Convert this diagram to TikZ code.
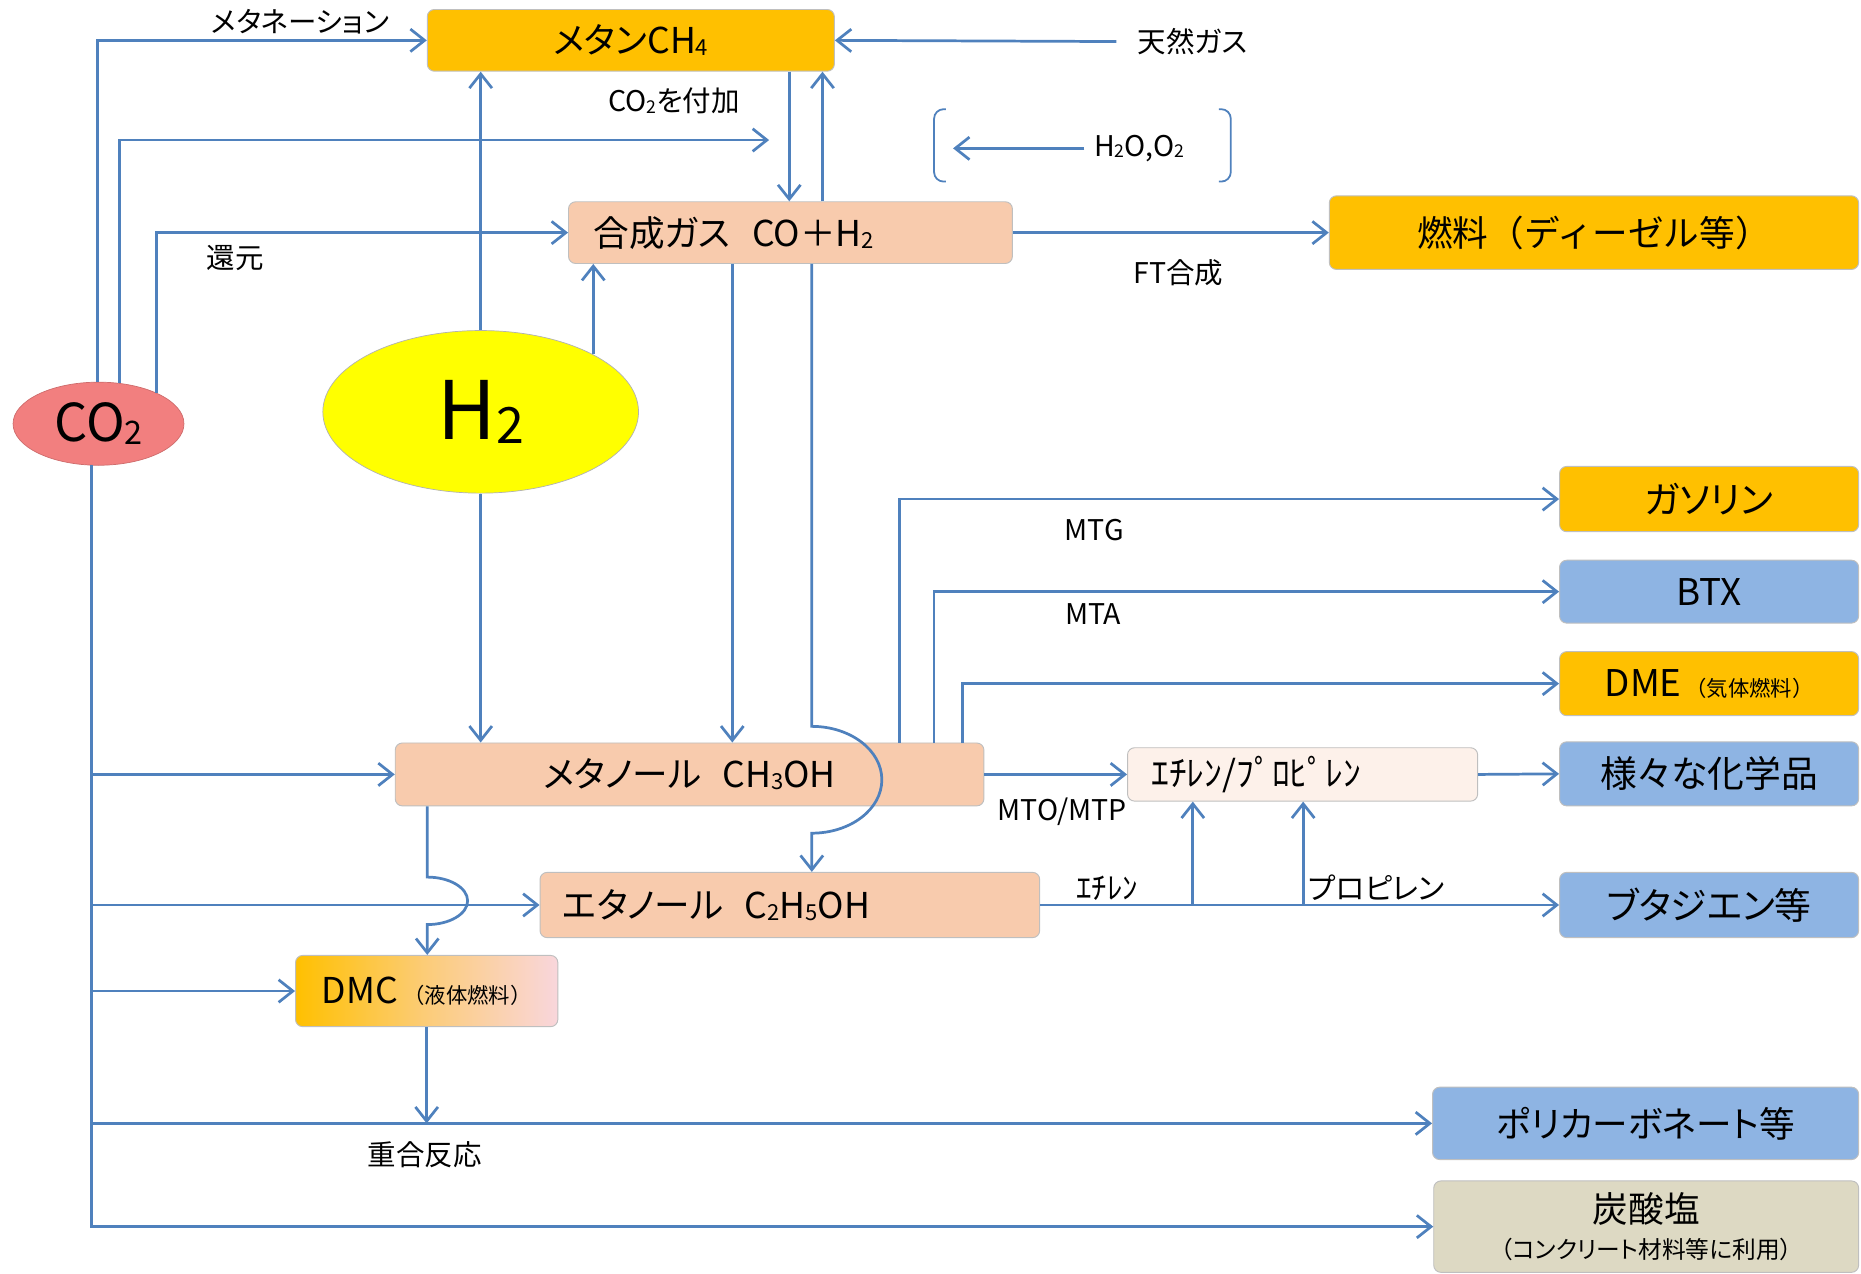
\documentclass[tikz,border=0pt]{standalone}
\usepackage{fontspec}
\setmainfont{Noto Sans CJK JP}[RawFeature=+palt]
\newfontfamily\jpfull{Noto Sans CJK JP}
\usetikzlibrary{arrows.meta,calc,shapes.geometric}
\definecolor{gold}{HTML}{FFC000}
\definecolor{peach}{HTML}{F8CBAD}
\definecolor{skyb}{HTML}{8EB4E3}
\definecolor{beige}{HTML}{DDD9C3}
\definecolor{pale}{HTML}{FDF1EA}
\definecolor{salmon}{HTML}{F27F7F}
\definecolor{lineblue}{HTML}{4F81BD}
\definecolor{dmcpink}{HTML}{F9D6DC}
\definecolor{hyellow}{HTML}{FFFF00}
\newcommand{\bigf}{\fontsize{30}{36}\selectfont}
\newcommand{\rcf}{\fontsize{31}{37}\selectfont}
\newcommand{\lblf}{\fontsize{24}{28}\selectfont}
\newcommand{\tinyf}{\fontsize{18}{21}\selectfont}
\newcommand{\sbs}[1]{\raisebox{-0.06em}{\scalebox{0.62}{#1}}}
\tikzset{
  box/.style={rounded corners=6pt, draw=black!25, line width=0.8pt, inner sep=0pt},
  conn/.style={draw=lineblue, line width=2.3pt},
  arr/.style={conn, -{Straight Barb[length=12pt,width=19pt]}},
  lbl/.style={font=\lblf, inner sep=0pt},
  rcol/.style={box, minimum width=252pt, font=\rcf},
}
\begin{document}
\begin{tikzpicture}[x=1pt,y=-1pt]
\useasboundingbox (0,0) rectangle (1568,1073);
% ---- nodes ----
\node[box, fill=gold, minimum width=343pt, minimum height=52pt, font=\bigf] (methane) at (531.5,34) {メタンCH\sbs{4}};
\node[box, fill=peach, minimum width=374pt, minimum height=52pt, text width=332pt, align=left, inner xsep=21pt, font=\bigf] (syngas) at (666,196) {合成ガス\hspace{0.6em}CO＋H\sbs{2}};
\node[box, fill=gold, minimum width=446pt, minimum height=62pt, font=\bigf\jpfull] (fuel) at (1343,196) {燃料（ディーゼル等）};
\node[ellipse, fill=salmon, draw=salmon!85!black, line width=0.6pt, minimum width=144pt, minimum height=70pt, inner sep=0pt, font=\fontsize{44}{48}\selectfont] (co2) at (83,357) {CO\sbs{2}};
\node[ellipse, fill=hyellow, draw=black!30, line width=0.6pt, minimum width=266pt, minimum height=137pt, inner sep=0pt, font=\fontsize{68}{72}\selectfont] (h2) at (405,347) {H\sbs{2}};
\node[box, fill=peach, minimum width=496pt, minimum height=53pt, font=\bigf] (methanol) at (581,652.5) {メタノール\hspace{0.6em}CH\sbs{3}OH};
\node[box, fill=peach, minimum width=421pt, minimum height=55pt, text width=383pt, align=left, inner xsep=19pt, font=\bigf] (ethanol) at (665.5,762.5) {エタノール\hspace{0.6em}C\sbs{2}H\sbs{5}OH};
\node[box, fill=pale, minimum width=295pt, minimum height=45pt, text width=255pt, align=left, inner xsep=20pt, font=\bigf] (olefin) at (1097.5,652.5) {ｴﾁﾚﾝ/ﾌﾟﾛﾋﾟﾚﾝ};
\node[box, left color=gold, right color=dmcpink, middle color=gold!45!dmcpink, minimum width=221pt, minimum height=60pt, font=\bigf] (dmc) at (359.5,835) {DMC\hspace{0.15em}{\tinyf\jpfull （液体燃料）}};
\node[rcol, fill=gold, minimum height=55pt] (gasoline) at (1440,420.5) {ガソリン};
\node[rcol, fill=skyb, minimum height=53pt] (btx) at (1440,498.5) {BTX};
\node[rcol, fill=gold, minimum height=54pt] (dme) at (1440,576) {DME\hspace{0.1em}{\tinyf\jpfull （気体燃料）}};
\node[rcol, fill=skyb, minimum height=54pt] (chem) at (1440,652) {様々な化学品};
\node[rcol, fill=skyb, minimum height=55pt] (butadiene) at (1440,762.5) {ブタジエン等};
\node[box, fill=skyb, minimum width=359pt, minimum height=61pt, font=\bigf] (poly) at (1386.5,946.5) {ポリカーボネート等};
\node[box, fill=beige, minimum width=358pt, minimum height=77pt, align=center, font=\bigf] (carbonate) at (1387,1033.5) {炭酸塩\\[-6pt]{\fontsize{20}{24}\selectfont （コンクリート材料等に利用）}};
% ---- labels ----
\node[lbl] (lmeth) at (253,18) {メタネーション};
\node[lbl] (laddco2) at (568,85) {CO\sbs{2}を付加};
\node[lbl] (ng) at (1005,35) {天然ガス};
\node[lbl] (h2o) at (960,125) {H\sbs{2}O,O\sbs{2}};
\node[lbl] (lred) at (198,217) {還元};
\node[lbl] (lft) at (993,230) {FT合成};
\node[lbl] (lmtg) at (922,447) {MTG};
\node[lbl] (lmta) at (921,517) {MTA};
\node[lbl] (lmto) at (895,684) {MTO/MTP};
\node[lbl, font=\fontsize{26}{30}\selectfont] (leth) at (933,748) {ｴﾁﾚﾝ};
\node[lbl, font=\fontsize{25}{30}\selectfont] (lprop) at (1160,748) {プロピレン};
\node[lbl] (lpoly) at (358,973) {重合反応};
% ---- helper coordinates ----
\coordinate (addco2) at (648,118);
\coordinate (h2oend) at (803,125);
\coordinate (xa) at (665,0);
\coordinate (xb) at (693,0);
\coordinate (xc) at (617,0);
\coordinate (xh) at (684,0);
\coordinate (hopa) at (0,612);
\coordinate (xm) at (360,0);
\coordinate (hopb) at (0,739);
\coordinate (xg) at (758,0);
\coordinate (xt) at (787,0);
\coordinate (xd) at (811,0);
\coordinate (xe) at (1005,0);
\coordinate (xp) at (1098,0);
% ---- connectors ----
\draw[arr] (co2.91) |- (methane.west);
\draw[arr] (co2.63) |- (addco2);
\draw[arr] (co2.28) |- (syngas.west);
\draw[arr] (co2.260) |- (methanol.west);
\draw[arr] (co2.260) |- (ethanol.west);
\draw[arr] (co2.260) |- (dmc.west);
\draw[arr] (co2.260) |- (poly.west);
\draw[arr] (co2.260) |- (carbonate.west);
\draw[arr] (h2.north) -- (h2.north |- methane.south);
\draw[arr] (h2.27) -- (h2.27 |- syngas.south);
\draw[arr] (h2.south) -- (h2.south |- methanol.north);
\draw[arr] (methane.south -| xa) -- (syngas.north -| xa);
\draw[arr] (syngas.north -| xb) -- (methane.south -| xb);
\draw[arr] ([xshift=-18pt]ng.west) -- (methane.east);
\draw[arr] ([xshift=-8pt]h2o.west) -- (h2oend);
\draw[conn, line width=1.5pt, rounded corners=8pt] (797,92) -- (787,92) -- (787,153) -- (797,153);
\draw[conn, line width=1.5pt, rounded corners=8pt] (1027,92) -- (1037,92) -- (1037,153) -- (1027,153);
\draw[arr] (syngas.east) -- (fuel.west);
\draw[arr] (syngas.south -| xc) -- (methanol.north -| xc);
\draw[arr] (syngas.south -| xh) -- (xh |- hopa) arc[start angle=90, end angle=-90, x radius=59pt, y radius=45pt] -- (ethanol.north -| xh);
\draw[arr] (methanol.north -| xg) |- (gasoline.west);
\draw[arr] (methanol.north -| xt) |- (btx.west);
\draw[arr] (methanol.north -| xd) |- (dme.west);
\draw[arr] (methanol.east) -- (olefin.west);
\draw[arr] (olefin.east) -- (chem.west);
\draw[arr] (ethanol.east) -- (butadiene.west);
\draw[arr] (ethanol.east -| xe) -- (olefin.south -| xe);
\draw[arr] (ethanol.east -| xp) -- (olefin.south -| xp);
\draw[arr] (methanol.south -| xm) -- (xm |- hopb) arc[start angle=90, end angle=-90, x radius=34pt, y radius=20pt] -- (dmc.north -| xm);
\draw[arr] (dmc.south) -- (dmc.south |- poly.west);
\end{tikzpicture}
\end{document}
